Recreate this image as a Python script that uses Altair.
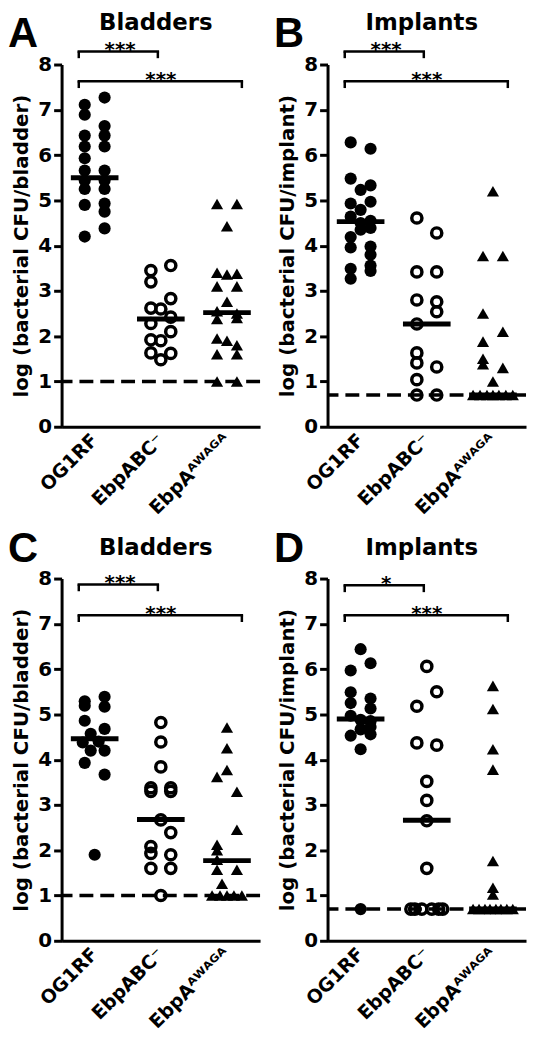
import altair as alt
import pandas as pd

FONT = "DejaVu Sans"
LETTER_FONT = "Liberation Sans"
W, H = 200, 365

GROUPS = ["OG1RF", "EbpABC\u207b", "EbpA\u1d2c\u1d42\u1d2c\u1d33\u1d2c"]

# ---------------- Panel A (Bladders) ----------------
A_OG1RF = [7.27, 7.11, 6.89, 6.64, 6.43, 6.43, 6.19, 6.19, 5.93, 5.66, 5.66, 5.44, 5.44, 5.25, 5.25, 4.93, 4.90, 4.75, 4.38, 4.20]
A_OG1RF_COL = [1, -1, -1, 1, -1, 1, -1, 1, -1, -1, 1, -1, 1, -1, 1, 1, -1, 1, 1, -1]
A_EBPABC = [3.56, 3.45, 3.20, 2.83, 2.62, 2.60, 2.42, 2.28, 2.10, 1.92, 1.90, 1.63, 1.62, 1.48]
A_EBPABC_COL = [1, -1, -1, 1, -1, 0, 1, -1, 1, -1, 0, -1, 1, 0]
A_EBPA = [4.92, 4.92, 4.43, 3.40, 3.36, 3.38, 3.10, 3.10, 2.76, 2.55, 2.50, 2.38, 2.40, 1.95, 1.90, 1.80, 1.60, 1.60, 1.00, 1.00]
A_EBPA_COL = [-1, 1, 0, -1, 0, 1, -1, 1, 0, -1, 1, -1, 1, -1, 0, 1, -1, 1, -1, 1]
A_MEDIANS = [5.50, 2.38, 2.52]

# ---------------- Panel B (Implants) ----------------
B_OG1RF = [6.28, 6.14, 5.48, 5.33, 5.23, 4.97, 4.93, 4.79, 4.64, 4.55, 4.50, 4.39, 4.35, 4.19, 3.96, 3.98, 3.80, 3.56, 3.49, 3.44, 3.27]
B_OG1RF_COL = [-1, 1, -1, 1, 0, 1, -1, 0, -1, 1, 0, 1, 0, -1, -1, 1, 1, 1, -1, 1, -1]
B_EBPABC = [4.61, 4.28, 3.42, 3.42, 2.80, 2.76, 2.54, 2.27, 1.63, 1.41, 1.32, 1.04, 0.70, 0.70]
B_EBPABC_COL = [-1, 1, -1, 1, -1, 1, 1, -1, -1, -1, 1, -1, -1, 1]
B_EBPA = [5.20, 3.77, 3.77, 2.50, 2.10, 1.88, 1.50, 1.38, 1.30, 1.00, 0.70, 0.70, 0.70, 0.70, 0.70, 0.70, 0.70]
B_EBPA_COL = [0, -1, 1, -1, 1, -1, -1, -1, 1, 0, -2, -1.3, -0.6, 0, 0.6, 1.3, 2]
B_MEDIANS = [4.53, 2.27, 0.70]

# ---------------- Panel C (Bladders) ----------------
C_OG1RF = [5.39, 5.29, 5.19, 5.17, 4.86, 4.68, 4.57, 4.38, 4.40, 4.20, 4.20, 3.93, 3.67, 1.90]
C_OG1RF_COL = [1, -1, -1, 1, -1, 1, -0.4, -1.2, 0.4, -0.4, 1, -1, 1, 0]
C_EBPABC = [4.82, 4.39, 3.84, 3.38, 3.30, 3.38, 3.30, 2.67, 2.39, 2.08, 1.93, 1.90, 1.60, 1.60, 1.00]
C_EBPABC_COL = [0, 0, 0, -1, -1, 1, 1, 0, 1, -1, -1, 1, -1, 1, 0]
C_EBPA = [4.71, 4.25, 3.77, 3.62, 3.29, 2.45, 2.12, 2.00, 1.79, 1.57, 1.57, 1.26, 1.00, 1.00, 1.00, 1.00, 1.00]
C_EBPA_COL = [0, 0, 0, -1, 1, 1, -1, -1, -1, -1, 1, -0.5, -1.5, -0.7, 0, 0.7, 1.5]
C_MEDIANS = [4.46, 2.68, 1.77]

# ---------------- Panel D (Implants) ----------------
D_OG1RF = [6.44, 6.13, 5.97, 5.49, 5.35, 5.25, 5.13, 4.97, 4.88, 4.85, 4.72, 4.67, 4.56, 4.53, 4.23, 0.70]
D_OG1RF_COL = [0, 1, -1, -1, 1, -1, 1, -1, 0, 1, 1, 0, 1, -1, 0, 0]
D_EBPABC = [6.06, 5.50, 5.18, 4.37, 4.32, 3.52, 3.10, 2.65, 1.60, 0.70, 0.70, 0.70, 0.70, 0.70, 0.70]
D_EBPABC_COL = [0, 1, -1, -1, 1, 0, 0, 0, 0, -1.6, -1.2, -0.5, 0.5, 1.2, 1.6]
D_EBPA = [5.63, 5.12, 4.23, 3.78, 1.76, 1.17, 1.02, 0.70, 0.70, 0.70, 0.70, 0.70, 0.70, 0.70, 0.70]
D_EBPA_COL = [0, 0, 0, 0, 0, 0, 0, -2, -1.4, -0.8, -0.3, 0.3, 0.8, 1.4, 2]
D_MEDIANS = [4.90, 2.66, 0.70]

# detection limits, significance labels and bracket heights
LOD = {"A": 1.0, "B": 0.7, "C": 1.0, "D": 0.7}
STARS = {"A": ["***", "***"], "B": ["***", "***"], "C": ["***", "***"], "D": ["*", "***"]}
LEVELS = {"A": [8.29, 7.63], "B": [8.29, 7.63], "C": [7.87, 7.19], "D": [7.85, 7.19]}


def panel(letter, title, ytitle, groups, medians, lod, stars, levels, letter_y, title_y):
    X = alt.X(
        "group:N",
        scale=alt.Scale(domain=GROUPS, paddingInner=0, paddingOuter=0),
        sort=GROUPS,
        title=None,
        axis=alt.Axis(
            labelAngle=-45, labelAlign="right", labelBaseline="middle",
            labelFont=FONT, labelFontWeight="bold", labelFontSize=19, labelColor="black",
            ticks=False, domainColor="black", domainWidth=3, labelPadding=10,
            labelLimit=0, labelOverlap=False, labelFlush=False,
        ),
    )
    Y = alt.Y(
        "value:Q",
        scale=alt.Scale(domain=[0, 8], nice=False),
        title=ytitle,
        axis=alt.Axis(
            values=list(range(9)), format="d", grid=False,
            domainColor="black", domainWidth=3, tickColor="black", tickWidth=3, tickSize=8,
            labelFont=FONT, labelFontWeight="bold", labelFontSize=20, labelColor="black", labelPadding=2,
            titleFont=FONT, titleFontWeight="bold", titleFontSize=20, titleColor="black", titlePadding=6,
        ),
    )
    XO = alt.XOffset("col:Q", scale=alt.Scale(domain=[-3.33, 3.33]))

    def grp_df(i):
        vals, cols = groups[i]
        return pd.DataFrame({"group": [GROUPS[i]] * len(vals), "value": vals, "col": cols})

    layers = []
    layers.append(
        alt.Chart(pd.DataFrame({"value": [lod]}))
        .mark_rule(strokeDash=[14, 7], strokeWidth=3.5, color="black")
        .encode(y=Y)
    )
    layers.append(
        alt.Chart(grp_df(0)).mark_point(shape="circle", filled=True, size=150, color="black", opacity=1, strokeWidth=0)
        .encode(x=X, y=Y, xOffset=XO)
    )
    layers.append(
        alt.Chart(grp_df(1)).mark_point(shape="circle", filled=False, size=105, color="black", opacity=1, strokeWidth=3.5)
        .encode(x=X, y=Y, xOffset=XO)
    )
    layers.append(
        alt.Chart(grp_df(2)).mark_point(shape="triangle-up", filled=True, size=150, color="black", opacity=1, strokeWidth=0)
        .encode(x=X, y=Y, xOffset=XO)
    )
    layers.append(
        alt.Chart(pd.DataFrame({"group": GROUPS, "value": medians}))
        .mark_tick(size=48, thickness=5, color="black", opacity=1)
        .encode(x=X, y=Y)
    )
    # significance brackets
    ends = [(GROUPS[1], -3, stars[0], -41), (GROUPS[2], 15, stars[1], 0)]
    for (end, end_off, lab, tdx), lev in zip(ends, levels):
        layers.append(
            alt.Chart(pd.DataFrame({"group": [GROUPS[0]], "group2": [end], "value": [lev]}))
            .mark_rule(strokeWidth=2.5, color="black", xOffset=-16, x2Offset=end_off, strokeCap="square")
            .encode(x=X, x2=alt.X2("group2:N"), y=Y)
        )
        for g, off in [(GROUPS[0], -16), (end, end_off)]:
            layers.append(
                alt.Chart(pd.DataFrame({"group": [g], "value": [lev], "value2": [lev - 0.15]}))
                .mark_rule(strokeWidth=2.5, color="black", xOffset=off)
                .encode(x=X, y=Y, y2=alt.Y2("value2:Q"))
            )
        layers.append(
            alt.Chart(pd.DataFrame({"group": [GROUPS[1]], "value": [lev], "label": [lab]}))
            .mark_text(dx=tdx, dy=5, baseline="alphabetic", align="center", fontSize=20,
                       fontWeight="bold", font=FONT, color="black")
            .encode(x=X, y=Y, text="label:N")
        )
    layers.append(
        alt.Chart(pd.DataFrame({"t": [letter]}))
        .mark_text(align="left", baseline="alphabetic", fontSize=42, fontWeight="bold", font=LETTER_FONT, color="black")
        .encode(text="t:N", x=alt.value(-54), y=alt.value(letter_y))
    )
    layers.append(
        alt.Chart(pd.DataFrame({"t": [title]}))
        .mark_text(align="center", baseline="alphabetic", fontSize=23, fontWeight="bold", font=FONT, color="black")
        .encode(text="t:N", x=alt.value(W / 2 - 5), y=alt.value(title_y))
    )
    return alt.layer(*layers).properties(width=W, height=H)


pA = panel("A", "Bladders", "log (bacterial CFU/bladder)",
           [(A_OG1RF, A_OG1RF_COL), (A_EBPABC, A_EBPABC_COL), (A_EBPA, A_EBPA_COL)],
           A_MEDIANS, LOD["A"], STARS["A"], LEVELS["A"], -18, -35)
pB = panel("B", "Implants", "log (bacterial CFU/implant)",
           [(B_OG1RF, B_OG1RF_COL), (B_EBPABC, B_EBPABC_COL), (B_EBPA, B_EBPA_COL)],
           B_MEDIANS, LOD["B"], STARS["B"], LEVELS["B"], -18, -35)
pC = panel("C", "Bladders", "log (bacterial CFU/bladder)",
           [(C_OG1RF, C_OG1RF_COL), (C_EBPABC, C_EBPABC_COL), (C_EBPA, C_EBPA_COL)],
           C_MEDIANS, LOD["C"], STARS["C"], LEVELS["C"], -17, -24)
pD = panel("D", "Implants", "log (bacterial CFU/implant)",
           [(D_OG1RF, D_OG1RF_COL), (D_EBPABC, D_EBPABC_COL), (D_EBPA, D_EBPA_COL)],
           D_MEDIANS, LOD["D"], STARS["D"], LEVELS["D"], -17, -24)

chart = (
    alt.vconcat(
        alt.hconcat(pA, pB, spacing=12),
        alt.hconcat(pC, pD, spacing=12),
        spacing=10,
    )
    .properties(padding=0, background="white")
    .configure_view(stroke=None)
)

chart.save("out.html", embed_options={"renderer": "svg", "actions": False})
